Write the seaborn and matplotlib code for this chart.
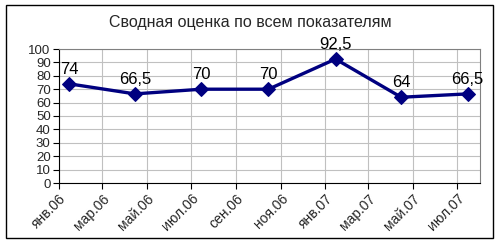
import matplotlib
matplotlib.use("Agg")
import matplotlib.pyplot as plt
import seaborn as sns
import pandas as pd
from matplotlib.patches import Rectangle

dates = ["2006-01-15", "2006-04-15", "2006-07-15", "2006-10-15",
         "2007-01-15", "2007-04-15", "2007-07-15"]
values = [74, 66.5, 70, 70, 92.5, 64, 66.5]
value_labels = ["74", "66,5", "70", "70", "92,5", "64", "66,5"]
tick_dates = ["2006-01-01", "2006-03-01", "2006-05-01", "2006-07-01", "2006-09-01",
              "2006-11-01", "2007-01-01", "2007-03-01", "2007-05-01", "2007-07-01"]
tick_labels = ["янв.06", "мар.06", "май.06", "июл.06", "сен.06",
               "ноя.06", "янв.07", "мар.07", "май.07", "июл.07"]
title = "Сводная оценка по всем показателям"

sns.set_style("white")
plt.rcParams['font.family'] = ['Liberation Sans', 'DejaVu Sans']

df = pd.DataFrame({"date": pd.to_datetime(dates), "value": values})

fig = plt.figure(figsize=(5.01, 2.43), dpi=100)
ax = fig.add_axes([59/501, 1-183/243, (480-59)/501, (183-49)/243])

sns.lineplot(data=df, x="date", y="value", ax=ax, color="#000080",
             linewidth=2.4, marker="D", markersize=7, markeredgecolor="#000080")

for d, v, t in zip(df["date"], values, value_labels):
    ax.annotate(t, (d, v), xytext=(0, 5), textcoords="offset points",
                ha="center", va="bottom", fontsize=12, color="black")

ax.set_xlim(pd.Timestamp("2006-01-01"), pd.Timestamp("2007-08-01"))
ax.set_ylim(0, 100)
ax.set_yticks(range(0, 101, 10))
ax.set_yticklabels([str(v) for v in range(0, 101, 10)], fontsize=9.5)
ax.set_xticks(pd.to_datetime(tick_dates))
ax.set_xticklabels(tick_labels, rotation=45, ha="right", rotation_mode="anchor", fontsize=10)
ax.set_xlabel("")
ax.set_ylabel("")
ax.grid(True, color="#c0c0c0", linewidth=0.8)
ax.set_axisbelow(True)
ax.tick_params(axis="both", direction="out", length=4, width=0.8, color="black", pad=2, bottom=True, left=True)
for s in ["left", "bottom"]:
    ax.spines[s].set_color("black")
    ax.spines[s].set_linewidth(0.8)
for s in ["top", "right"]:
    ax.spines[s].set_visible(True)
    ax.spines[s].set_color("#808080")
    ax.spines[s].set_linewidth(0.8)

fig.text(250/501, 1-22/243, title, ha="center", va="center", fontsize=11.5)
fig.patches.append(Rectangle((6/501, 1-238/243), (493-6)/501, (238-5)/243,
                             transform=fig.transFigure, fill=False,
                             edgecolor="black", linewidth=1))

fig.savefig("out.png", dpi=100)
